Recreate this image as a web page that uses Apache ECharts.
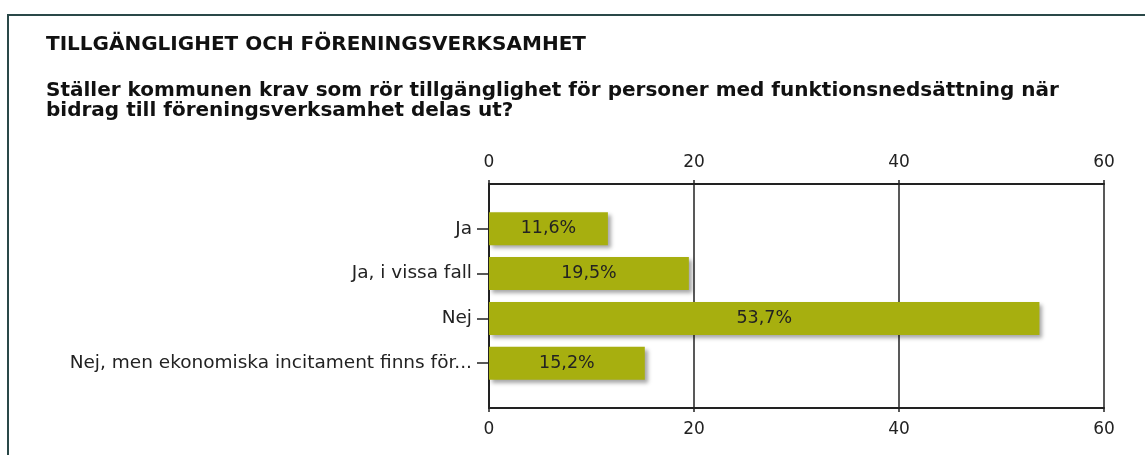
<!DOCTYPE html>
<html lang="sv">
<head>
    <meta charset="UTF-8">
    <title>Tillgänglighet och föreningsverksamhet</title>
    <script src="https://cdn.jsdelivr.net/npm/echarts@6/dist/echarts.min.js"></script>
    <style>
        html, body { margin: 0; padding: 0; background: #fff; }
        #chart { width: 1145px; height: 455px; }
    </style>
</head>
<body>
    <div id="chart"></div>
    <script>
        // data
        const categories = ['Ja', 'Ja, i vissa fall', 'Nej', 'Nej, men ekonomiska incitament finns för...'];
        const values = [11.6, 19.5, 53.7, 15.2];
        const xTicks = [0, 20, 40, 60];

        // tom plats före och efter kategorierna
        const yCats = [''].concat(categories, ['']);
        const yVals = ['-'].concat(values, ['-']);

        const chart = echarts.init(document.getElementById('chart'));

        const font = 'DejaVu Sans';
        const xAxisBase = {
            type: 'value',
            min: xTicks[0],
            max: xTicks[xTicks.length - 1],
            interval: xTicks[1] - xTicks[0],
            axisLine: { show: true, lineStyle: { color: '#222', width: 2 } },
            axisTick: { show: true, length: 4, lineStyle: { color: '#222', width: 1.5 } },
            axisLabel: { color: '#222', fontSize: 17, fontFamily: font, margin: 13 }
        };

        chart.setOption({
            animation: false,
            title: [{
                text: 'TILLGÄNGLIGHET OCH FÖRENINGSVERKSAMHET',
                left: 46, top: 35, padding: 0,
                textStyle: { fontFamily: font, fontWeight: 'bold', fontSize: 20, color: '#111' }
            }, {
                text: 'Ställer kommunen krav som rör tillgänglighet för personer med funktionsnedsättning när\nbidrag till föreningsverksamhet delas ut?',
                left: 46, top: 81, padding: 0,
                textStyle: { fontFamily: font, fontWeight: 'bold', fontSize: 20, lineHeight: 20, color: '#111' }
            }],
            graphic: [{
                type: 'rect',
                shape: { x: 8, y: 15, width: 1200, height: 500 },
                style: { fill: 'none', stroke: '#2a4848', lineWidth: 2 }
            }],
            grid: { left: 489, right: 41, top: 184, bottom: 47 },
            xAxis: [
                Object.assign({}, xAxisBase, {
                    position: 'top',
                    splitLine: { show: true, lineStyle: { color: '#222', width: 1.5 } }
                }),
                Object.assign({}, xAxisBase, {
                    position: 'bottom',
                    splitLine: { show: false }
                })
            ],
            yAxis: {
                type: 'category',
                data: yCats,
                inverse: true,
                boundaryGap: false,
                axisLine: { show: true, lineStyle: { color: '#222', width: 2 } },
                axisTick: {
                    show: true, length: 12,
                    interval: (i) => i > 0 && i < yCats.length - 1,
                    lineStyle: { color: '#222', width: 1.5 }
                },
                axisLabel: { interval: 0, color: '#222', fontSize: 18.5, fontFamily: font, margin: 17 },
                splitLine: { show: false }
            },
            series: [{
                type: 'bar',
                xAxisIndex: 0,
                data: yVals,
                barWidth: 33,
                itemStyle: {
                    color: '#a7af0f',
                    shadowColor: 'rgba(0,0,0,0.35)',
                    shadowBlur: 4,
                    shadowOffsetX: 3,
                    shadowOffsetY: 3
                },
                label: {
                    show: true,
                    position: 'inside',
                    color: '#222',
                    fontSize: 17.5,
                    fontFamily: font,
                    formatter: (p) => String(p.value).replace('.', ',') + '%'
                }
            }]
        });
    </script>
</body>
</html>
